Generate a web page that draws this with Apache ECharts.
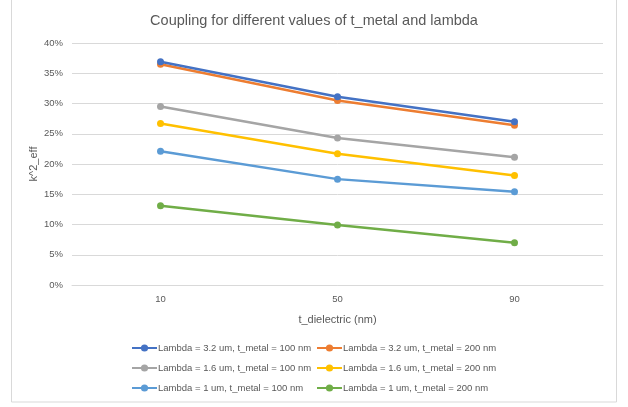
<!DOCTYPE html>
<html>
<head>
<meta charset="utf-8">
<script src="https://cdn.jsdelivr.net/npm/echarts@6/dist/echarts.min.js"></script>
<style>
  html, body { margin: 0; padding: 0; background: #fff; }
  #chart { width: 628px; height: 407px; }
</style>
</head>
<body>
<div id="chart"></div>
<script>
// Thickness of the dielectric layer (nm)
const categories = ['10', '50', '90'];

// Effective coupling k^2_eff (%) per wavelength / metal thickness
const seriesNames = [
  'Lambda = 3.2 um, t_metal = 100 nm',
  'Lambda = 3.2 um, t_metal = 200 nm',
  'Lambda = 1.6 um, t_metal = 100 nm',
  'Lambda = 1.6 um, t_metal = 200 nm',
  'Lambda = 1 um, t_metal = 100 nm',
  'Lambda = 1 um, t_metal = 200 nm'
];
const lambda32_t100 = [36.9, 31.1, 27.0];
const lambda32_t200 = [36.5, 30.5, 26.4];
const lambda16_t100 = [29.5, 24.3, 21.1];
const lambda16_t200 = [26.7, 21.7, 18.1];
const lambda1_t100 = [22.1, 17.5, 15.4];
const lambda1_t200 = [13.1, 9.9, 7.0];
const seriesValues = [lambda32_t100, lambda32_t200, lambda16_t100, lambda16_t200, lambda1_t100, lambda1_t200];

const colors = ['#4472C4', '#ED7D31', '#A5A5A5', '#FFC000', '#5B9BD5', '#70AD47'];
const font = '"Liberation Sans", Arial, sans-serif';
const textGray = '#595959';

const chart = echarts.init(document.getElementById('chart'), null, { renderer: 'canvas' });

// Legend laid out in a 2-column grid, one legend component per entry
const legendCols = [131, 316];
const legendRows = [343, 363, 383];
const legends = seriesNames.map((name, i) => ({
  data: [name],
  left: legendCols[i % 2],
  top: legendRows[Math.floor(i / 2)],
  itemWidth: 25,
  itemHeight: 9,
  padding: 0,
  textStyle: { fontFamily: font, fontSize: 9.5, color: textGray, padding: [0, 0, 0, -4] },
  selectedMode: false
}));

chart.setOption({
  animation: false,
  color: colors,
  title: {
    text: 'Coupling for different values of t_metal and lambda',
    left: 'center',
    top: 8,
    textStyle: { fontFamily: font, fontSize: 14.5, fontWeight: 'normal', color: textGray }
  },
  graphic: [{
    type: 'rect',
    shape: { x: 11.5, y: -5, width: 605, height: 407 },
    style: { fill: 'none', stroke: '#d9d9d9', lineWidth: 1 },
    silent: true,
    z: -1
  }],
  legend: legends,
  grid: { left: 72, right: 25, top: 43, bottom: 122, containLabel: false },
  xAxis: {
    type: 'category',
    data: categories,
    boundaryGap: true,
    name: 't_dielectric (nm)',
    nameLocation: 'middle',
    nameGap: 29,
    nameTextStyle: { fontFamily: font, fontSize: 11, color: textGray },
    axisLine: { show: true, lineStyle: { color: '#d9d9d9', width: 1 } },
    axisTick: { show: false },
    axisLabel: { fontFamily: font, fontSize: 9.5, color: textGray, margin: 9 }
  },
  yAxis: {
    type: 'value',
    min: 0,
    max: 40,
    interval: 5,
    name: 'k^2_eff',
    nameLocation: 'middle',
    nameGap: 33,
    nameMoveOverlap: false,
    nameTextStyle: { fontFamily: font, fontSize: 11, color: textGray },
    axisLine: { show: false },
    axisTick: { show: false },
    axisLabel: { fontFamily: font, fontSize: 9.5, color: textGray, margin: 9, formatter: v => v + '%' },
    splitLine: { lineStyle: { color: '#d9d9d9', width: 1 } }
  },
  series: seriesNames.map((name, i) => ({
    name: name,
    type: 'line',
    data: seriesValues[i],
    symbol: 'circle',
    symbolSize: 7,
    lineStyle: { width: 2.5 },
    itemStyle: { color: colors[i] },
    z: 10 - i
  }))
});
</script>
</body>
</html>
